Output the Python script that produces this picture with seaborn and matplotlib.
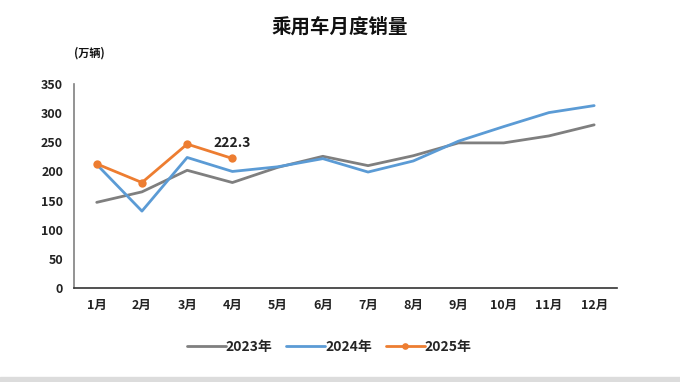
import numpy as np
import pandas as pd

import matplotlib
matplotlib.use("Agg")
import matplotlib.pyplot as plt
import seaborn as sns

# Datos (万辆)
meses = ["1月", "2月", "3月", "4月", "5月", "6月",
         "7月", "8月", "9月", "10月", "11月", "12月"]
ventas_2023 = [147, 165, 202, 181, 207, 226, 210, 227, 249, 249, 261, 280]
ventas_2024 = [212, 132, 224, 200, 208, 222, 199, 218, 252, 277, 301, 313]
ventas_2025 = [213, 181, 247, 222.3]
series = ["2023年", "2024年", "2025年"]
colores = ["#7f7f7f", "#5b9bd5", "#ed7d31"]

filas = []
for serie, valores in zip(series, [ventas_2023, ventas_2024, ventas_2025]):
    for i, v in enumerate(valores):
        filas.append({"mes": i, "ventas": v, "serie": serie})
datos = pd.DataFrame(filas)

sns.set_style("white")
plt.rcParams['font.family'] = ['Noto Sans CJK SC', 'DejaVu Sans']

fig = plt.figure(figsize=(6.8, 3.82), dpi=100)
ax = fig.add_axes([0.109, 0.246, 0.798, 0.534])

for serie, color in zip(series, colores):
    sub = datos[datos["serie"] == serie]
    sns.lineplot(
        data=sub, x="mes", y="ventas", ax=ax,
        color=color, linewidth=2.0, label=serie,
        marker="o" if serie == "2025年" else None,
        markersize=6, markeredgewidth=0,
    )

ax.annotate(
    f"{ventas_2025[-1]:.1f}",
    xy=(3, ventas_2025[-1]), xytext=(0, 6), textcoords="offset points",
    ha="center", va="bottom", fontsize=10, fontweight="bold", color="#222222",
)

ax.set_xlim(-0.5, 11.5)
ax.set_ylim(0, 350)
ax.set_yticks(range(0, 351, 50))
ax.set_xticks(range(12))
ax.set_xticklabels(meses)
ax.set_xlabel("")
ax.set_ylabel("")
ax.tick_params(axis="both", labelsize=9, colors="#222222", length=0, pad=8)
for lbl in ax.get_xticklabels() + ax.get_yticklabels():
    lbl.set_fontweight("bold")

for lado in ["top", "right"]:
    ax.spines[lado].set_visible(False)
ax.spines["left"].set_color("#808080")
ax.spines["left"].set_linewidth(1.2)
ax.spines["bottom"].set_color("#333333")
ax.spines["bottom"].set_linewidth(1.2)

ax.legend(
    loc="center", bbox_to_anchor=(0.47, -0.29), ncol=3, frameon=False,
    prop={"weight": "bold", "size": 10}, handlelength=2.8,
    columnspacing=1.0, handletextpad=0.0, markerscale=0.8,
)

fig.text(0.5, 0.93, "乘用车月度销量", ha="center", va="center",
         fontsize=14, fontweight="bold", color="#111111")
fig.text(0.132, 0.862, "(万辆)", ha="center", va="center",
         fontsize=8, fontweight="bold", color="#111111")

# franja gris inferior
fig.patches.append(plt.Rectangle((0, 0), 1, 0.012, transform=fig.transFigure,
                                 color="#dcdcdc", zorder=0))

fig.savefig("out.png", dpi=100)
